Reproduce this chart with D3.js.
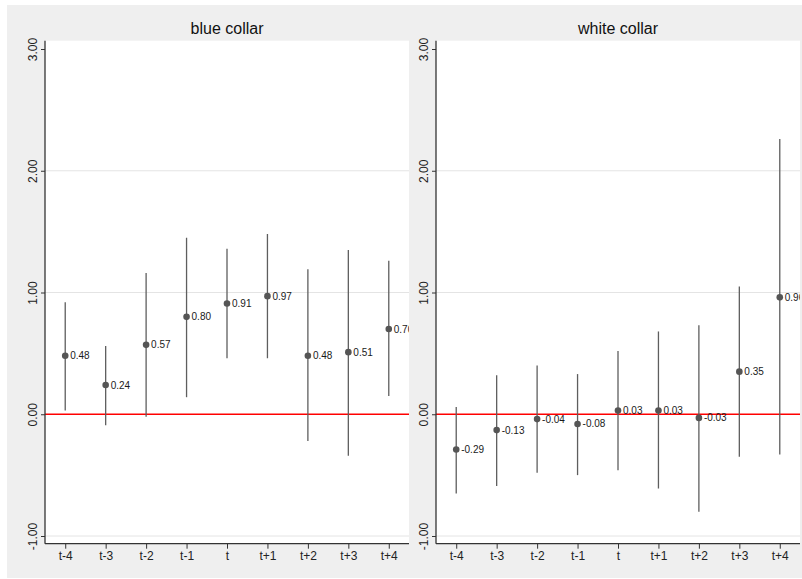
<!DOCTYPE html>
<html>
<head>
<meta charset="utf-8">
<script src="https://cdn.jsdelivr.net/npm/d3@7"></script>
<style>
  html, body { margin: 0; padding: 0; background: #ffffff; }
  svg { display: block; font-family: "Liberation Sans", Arial, Helvetica, sans-serif; }
</style>
</head>
<body>
<svg id="chart" width="802" height="579"></svg>
<script>
// Event-study coefficients with confidence intervals, by occupation group
const periods = ["t-4", "t-3", "t-2", "t-1", "t", "t+1", "t+2", "t+3", "t+4"];
const yTicks = [3, 2, 1, 0, -1];

const blueEst = [0.48, 0.24, 0.57, 0.80, 0.91, 0.97, 0.48, 0.51, 0.70];
const blueLo  = [0.03, -0.09, -0.02, 0.14, 0.46, 0.46, -0.22, -0.34, 0.15];
const blueHi  = [0.92, 0.56, 1.16, 1.45, 1.36, 1.48, 1.19, 1.35, 1.26];

const whiteEst = [-0.29, -0.13, -0.04, -0.08, 0.03, 0.03, -0.03, 0.35, 0.96];
const whiteLo  = [-0.65, -0.59, -0.48, -0.50, -0.46, -0.61, -0.80, -0.35, -0.33];
const whiteHi  = [0.06, 0.32, 0.40, 0.33, 0.52, 0.68, 0.73, 1.05, 2.26];

const panels = [
  { title: "blue collar",  est: blueEst,  lo: blueLo,  hi: blueHi,  x0: 45,  x1: 409 },
  { title: "white collar", est: whiteEst, lo: whiteLo, hi: whiteHi, x0: 436, x1: 800 }
];

const svg = d3.select("#chart");
const plotTop = 40.7, plotBottom = 543.7;

// outer graph region
svg.append("rect")
  .attr("x", 7).attr("y", 5).attr("width", 795).attr("height", 573)
  .attr("fill", "#efefef");

const y = d3.scaleLinear().domain([-1, 3]).range([536, 49]);
// two decimals, plain hyphen for negatives
const fmt = d3.formatLocale({ decimal: ".", thousands: ",", grouping: [3], currency: ["", ""], minus: "-" }).format(".2f");

panels.forEach((p, i) => {
  const x = d3.scalePoint().domain(periods).range([p.x0, p.x1]).padding(0.5);
  const g = svg.append("g");

  // panel title
  g.append("text")
    .attr("x", (p.x0 + p.x1) / 2).attr("y", 34)
    .attr("text-anchor", "middle")
    .attr("font-size", 16).attr("fill", "#111")
    .text(p.title);

  // plot region
  g.append("rect")
    .attr("x", p.x0).attr("y", plotTop)
    .attr("width", p.x1 - p.x0).attr("height", plotBottom - plotTop)
    .attr("fill", "#ffffff");

  const clipId = "clip" + i;
  g.append("clipPath").attr("id", clipId)
    .append("rect")
    .attr("x", p.x0).attr("y", plotTop)
    .attr("width", p.x1 - p.x0).attr("height", plotBottom - plotTop);

  const inner = g.append("g").attr("clip-path", `url(#${clipId})`);

  // horizontal grid lines
  inner.selectAll("line.grid")
    .data(yTicks.filter(v => v !== 0 && v !== 3))
    .join("line")
    .attr("class", "grid")
    .attr("x1", p.x0).attr("x2", p.x1)
    .attr("y1", d => y(d)).attr("y2", d => y(d))
    .attr("stroke", "#e4e4e4").attr("stroke-width", 1);

  // zero reference line
  inner.append("line")
    .attr("x1", p.x0).attr("x2", p.x1)
    .attr("y1", y(0)).attr("y2", y(0))
    .attr("stroke", "#ff0000").attr("stroke-width", 1.3);

  const rows = periods.map((k, j) => ({ k, est: p.est[j], lo: p.lo[j], hi: p.hi[j] }));

  // confidence intervals
  inner.selectAll("line.ci")
    .data(rows)
    .join("line")
    .attr("class", "ci")
    .attr("x1", d => x(d.k)).attr("x2", d => x(d.k))
    .attr("y1", d => y(d.lo)).attr("y2", d => y(d.hi))
    .attr("stroke", "#5e5e5e").attr("stroke-width", 1.3);

  // point estimates
  inner.selectAll("circle.pt")
    .data(rows)
    .join("circle")
    .attr("class", "pt")
    .attr("cx", d => x(d.k)).attr("cy", d => y(d.est))
    .attr("r", 3.3)
    .attr("fill", "#555555");

  // value labels
  inner.selectAll("text.val")
    .data(rows)
    .join("text")
    .attr("class", "val")
    .attr("x", d => x(d.k) + 5).attr("y", d => y(d.est))
    .attr("dy", "0.35em")
    .attr("font-size", 10).attr("fill", "#1a1a1a")
    .text(d => fmt(d.est));

  // y axis
  const yAxis = g.append("g")
    .attr("transform", `translate(${p.x0},0)`)
    .call(d3.axisLeft(y).tickValues(yTicks).tickFormat(fmt).tickSize(4).tickPadding(3));
  yAxis.select(".domain").remove();
  yAxis.selectAll(".tick line").attr("stroke", "#333");
  yAxis.selectAll(".tick text")
    .attr("font-size", 12).attr("fill", "#222")
    .attr("font-family", "Liberation Sans, Arial, sans-serif")
    .attr("transform", "rotate(-90)")
    .attr("x", 0).attr("y", -8)
    .attr("dy", 0)
    .attr("text-anchor", "middle");
  g.append("line")
    .attr("x1", p.x0).attr("x2", p.x0)
    .attr("y1", plotTop).attr("y2", plotBottom)
    .attr("stroke", "#333").attr("stroke-width", 1.3);

  // x axis
  const xAxis = g.append("g")
    .attr("transform", `translate(0,${plotBottom})`)
    .call(d3.axisBottom(x).tickSize(5).tickPadding(3));
  xAxis.select(".domain").remove();
  xAxis.selectAll(".tick line").attr("stroke", "#333");
  xAxis.selectAll(".tick text")
    .attr("font-size", 12).attr("fill", "#222")
    .attr("font-family", "Liberation Sans, Arial, sans-serif");
  g.append("line")
    .attr("x1", p.x0).attr("x2", p.x1)
    .attr("y1", plotBottom).attr("y2", plotBottom)
    .attr("stroke", "#333").attr("stroke-width", 1.3);
});
</script>
</body>
</html>
